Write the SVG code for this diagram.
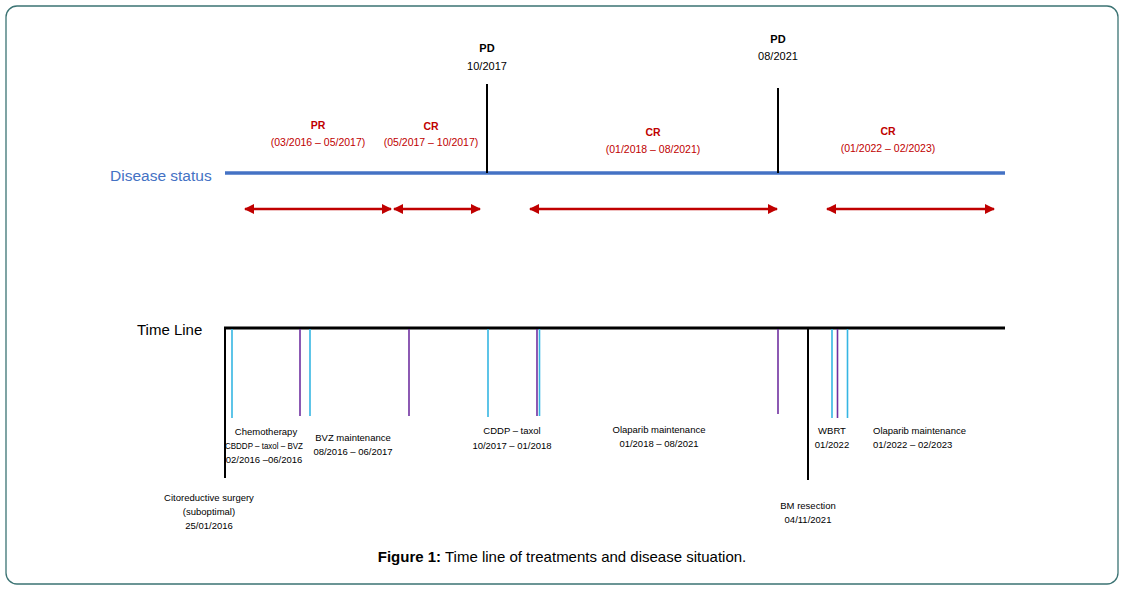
<svg xmlns="http://www.w3.org/2000/svg" width="1125" height="589" viewBox="0 0 1125 589">
<defs>
<marker id="ah" viewBox="0 0 10 10" refX="9" refY="5" markerWidth="4" markerHeight="4" orient="auto-start-reverse" markerUnits="strokeWidth">
<path d="M0,0 L10,5 L0,10 z" fill="#c00000"/>
</marker>
<style>
text{font-family:"Liberation Sans",Arial,sans-serif}
.red{fill:#c00000;font-size:10.5px;text-anchor:middle}
.redb{fill:#c00000;font-size:10.5px;font-weight:bold;text-anchor:middle}
.pd{fill:#000;font-size:11px;font-weight:bold;text-anchor:middle}
.pdd{fill:#000;font-size:11px;text-anchor:middle}
.sm{fill:#000;font-size:9.5px;text-anchor:middle}
.arr{stroke:#c00000;stroke-width:2.5;fill:none;marker-start:url(#ah);marker-end:url(#ah)}
.cy{stroke:#35b6e3;stroke-width:1.6}
.pu{stroke:#7030a0;stroke-width:1.6}
.bk{stroke:#000;stroke-width:2}
</style>
</defs>
<rect x="6" y="6" width="1112" height="578" rx="11" fill="#fff" stroke="#3b7373" stroke-width="1.3"/>
<g id="disease-status">
<text x="110" y="181" style="fill:#4472c4;font-size:15.5px">Disease status</text>
<line x1="225" y1="173" x2="1005" y2="173" stroke="#4472c4" stroke-width="3.5"/>
</g>
<g id="pd1">
<line x1="487" y1="84" x2="487" y2="173" class="bk"/>
<text x="487" y="52" class="pd">PD</text>
<text x="487" y="70" class="pdd">10/2017</text>
</g>
<g id="pd2">
<line x1="778" y1="88" x2="778" y2="173" class="bk"/>
<text x="778" y="43" class="pd">PD</text>
<text x="778" y="60" class="pdd">08/2021</text>
</g>
<g id="pr1">
<text x="318" y="129" class="redb">PR</text>
<text x="318" y="146" class="red">(03/2016 – 05/2017)</text>
</g>
<g id="cr1">
<text x="431" y="130" class="redb">CR</text>
<text x="431" y="146" class="red">(05/2017 – 10/2017)</text>
</g>
<g id="cr2">
<text x="653" y="136" class="redb">CR</text>
<text x="653" y="153" class="red">(01/2018 – 08/2021)</text>
</g>
<g id="cr3">
<text x="888" y="135" class="redb">CR</text>
<text x="888" y="152" class="red">(01/2022 – 02/2023)</text>
</g>
<g id="connectors">
<line x1="245" y1="209" x2="391" y2="209" class="arr"/>
<line x1="394" y1="209" x2="480" y2="209" class="arr"/>
<line x1="530" y1="209" x2="777" y2="209" class="arr"/>
<line x1="827" y1="209" x2="994" y2="209" class="arr"/>
</g>
<g id="time-line">
<text x="137" y="335" style="fill:#000;font-size:15px">Time Line</text>
<line x1="224" y1="328" x2="1005" y2="328" stroke="#000" stroke-width="3"/>
<line x1="225" y1="327" x2="225" y2="478" class="bk"/>
<line x1="808" y1="328" x2="808" y2="480" class="bk"/>
<line x1="232" y1="329" x2="232" y2="418" class="cy"/>
<line x1="300" y1="329" x2="300" y2="416" class="pu"/>
<line x1="310" y1="329" x2="310" y2="416" class="cy"/>
<line x1="409" y1="329" x2="409" y2="416" class="pu"/>
<line x1="488" y1="329" x2="488" y2="417" class="cy"/>
<line x1="537" y1="329" x2="537" y2="416" class="pu"/>
<line x1="539.5" y1="329" x2="539.5" y2="416" class="cy"/>
<line x1="778" y1="329" x2="778" y2="414" class="pu"/>
<line x1="832" y1="329" x2="832" y2="418" class="cy"/>
<line x1="837.5" y1="329" x2="837.5" y2="418" class="pu"/>
<line x1="847.5" y1="329" x2="847.5" y2="418" class="cy"/>
</g>
<g id="chemo">
<text x="266" y="435" class="sm">Chemotherapy</text>
<text x="264" y="449" class="sm" textLength="78" lengthAdjust="spacingAndGlyphs">CBDDP – taxol – BVZ</text>
<text x="264" y="463" class="sm">02/2016 –06/2016</text>
</g>
<g id="bvz">
<text x="353" y="441" class="sm">BVZ maintenance</text>
<text x="353" y="455" class="sm">08/2016 – 06/2017</text>
</g>
<g id="cddp">
<text x="512" y="434" class="sm">CDDP – taxol</text>
<text x="512" y="449" class="sm">10/2017 – 01/2018</text>
</g>
<g id="olaparib1">
<text x="659" y="433" class="sm">Olaparib maintenance</text>
<text x="659" y="447" class="sm">01/2018 – 08/2021</text>
</g>
<g id="wbrt">
<text x="832" y="434" class="sm">WBRT</text>
<text x="832" y="448" class="sm">01/2022</text>
</g>
<g id="olaparib2">
<text x="873" y="434" style="fill:#000;font-size:9.5px">Olaparib maintenance</text>
<text x="873" y="448" style="fill:#000;font-size:9.5px">01/2022 – 02/2023</text>
</g>
<g id="bm">
<text x="808" y="509" class="sm">BM resection</text>
<text x="808" y="523" class="sm">04/11/2021</text>
</g>
<g id="surgery">
<text x="209" y="501" class="sm">Citoreductive surgery</text>
<text x="209" y="515" class="sm">(suboptimal)</text>
<text x="209" y="529" class="sm">25/01/2016</text>
</g>
<text x="562" y="562" style="fill:#000;font-size:15px;text-anchor:middle"><tspan font-weight="bold">Figure 1:</tspan> Time line of treatments and disease situation.</text>
</svg>
